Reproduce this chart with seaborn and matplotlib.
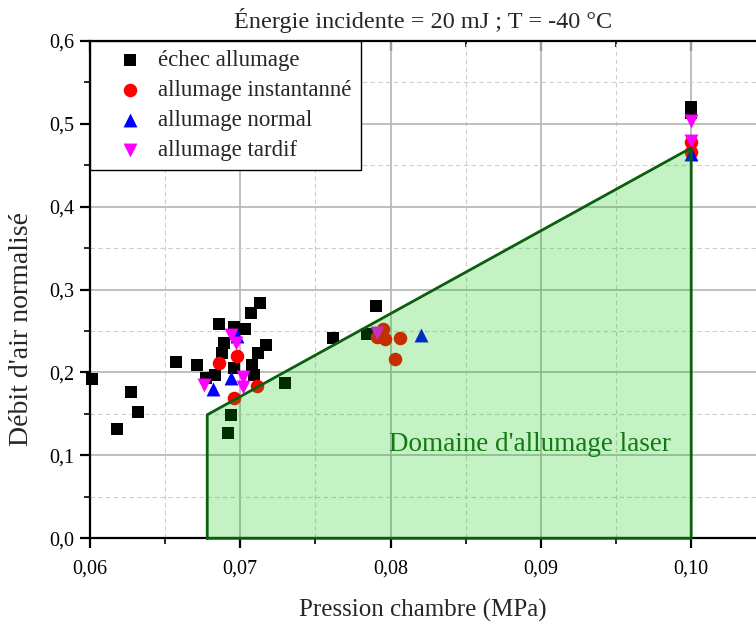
import numpy as np
import pandas as pd
import matplotlib
matplotlib.use("Agg")
import matplotlib.pyplot as plt
from matplotlib.ticker import MultipleLocator, FuncFormatter
import seaborn as sns

# ---- data ----
categories = ["échec allumage", "allumage instantanné", "allumage normal", "allumage tardif"]

echec_x = [0.0601, 0.0618, 0.0627, 0.0632, 0.0657, 0.0671, 0.0677, 0.0683, 0.0686, 0.0688,
           0.0689, 0.0696, 0.0703, 0.0696, 0.0708, 0.0709, 0.0707, 0.0713, 0.0712, 0.0717,
           0.0730, 0.0694, 0.0692, 0.0762, 0.0784, 0.0790, 0.1000, 0.1000]
echec_y = [0.192, 0.132, 0.177, 0.152, 0.213, 0.209, 0.193, 0.197, 0.259, 0.223,
           0.236, 0.255, 0.252, 0.205, 0.209, 0.197, 0.272, 0.284, 0.223, 0.233,
           0.187, 0.149, 0.127, 0.242, 0.247, 0.280, 0.520, 0.513]

inst_x = [0.0686, 0.0698, 0.0696, 0.0711, 0.0791, 0.0796, 0.0795, 0.0806, 0.0803, 0.1000, 0.1000]
inst_y = [0.211, 0.220, 0.169, 0.184, 0.243, 0.240, 0.253, 0.242, 0.216, 0.478, 0.466]

norm_x = [0.0698, 0.0694, 0.0682, 0.0820, 0.1000]
norm_y = [0.244, 0.193, 0.180, 0.245, 0.463]

tard_x = [0.0694, 0.0697, 0.0676, 0.0702, 0.0702, 0.0791, 0.1000, 0.1000]
tard_y = [0.245, 0.235, 0.185, 0.195, 0.183, 0.248, 0.503, 0.479]

domain_x = [0.0678, 0.0678, 0.1000, 0.1000]
domain_y = [0.0, 0.149, 0.471, 0.0]

title = "Énergie incidente = 20 mJ ; T = -40 °C"
xlabel = "Pression chambre (MPa)"
ylabel = "Débit d'air normalisé"
domain_label = "Domaine d'allumage laser"

# ---- build table ----
df = pd.DataFrame({
    "x": echec_x + inst_x + norm_x + tard_x,
    "y": echec_y + inst_y + norm_y + tard_y,
    "type": [categories[0]] * len(echec_x) + [categories[1]] * len(inst_x)
            + [categories[2]] * len(norm_x) + [categories[3]] * len(tard_x),
})

sns.set_style("white")
plt.rcParams["font.family"] = ["Liberation Serif", "DejaVu Serif"]
plt.rcParams["mathtext.fontset"] = "dejavuserif"

fig = plt.figure(figsize=(7.56, 6.22), dpi=100)
ax = fig.add_axes([90 / 756, 1 - 538.3 / 622, (756 - 90) / 756, (538.3 - 40.9) / 622])

palette = {categories[0]: "black", categories[1]: "#ff0000",
           categories[2]: "#0000ff", categories[3]: "#ff00ff"}
markers = {categories[0]: "s", categories[1]: "o",
           categories[2]: "^", categories[3]: "v"}
sizes = {categories[0]: 70, categories[1]: 95, categories[2]: 100, categories[3]: 100}

for cat in categories:
    sub = df[df["type"] == cat]
    sns.scatterplot(data=sub, x="x", y="y", color=palette[cat], marker=markers[cat],
                    s=sizes[cat], linewidth=0, ax=ax, zorder=3, label=cat, clip_on=False)

# domain polygon (semi-transparent overlay above the points)
ax.fill(domain_x, domain_y, facecolor=(0.0, 0.78, 0.0), alpha=0.23, edgecolor="none", zorder=4)
ax.plot(domain_x + [domain_x[0]], domain_y + [domain_y[0]], color="#0b5e0b", lw=2, zorder=5,
        clip_on=False)
ax.text(0.0799, 0.113, domain_label, color="#137a13", fontsize=19.5, ha="left", va="center",
        zorder=6)

ax.set_xlim(0.06, 0.06 + 666 / 15030)
ax.set_ylim(0, 0.6)

comma = FuncFormatter(lambda v, p: f"{v:.2f}".replace(".", ","))
comma1 = FuncFormatter(lambda v, p: f"{v:.1f}".replace(".", ","))
ax.xaxis.set_major_locator(MultipleLocator(0.01))
ax.xaxis.set_minor_locator(MultipleLocator(0.005))
ax.yaxis.set_major_locator(MultipleLocator(0.1))
ax.yaxis.set_minor_locator(MultipleLocator(0.05))
ax.xaxis.set_major_formatter(comma)
ax.yaxis.set_major_formatter(comma1)

ax.grid(which="major", color="#b4b4b4", lw=1.2, ls="-", zorder=0)
ax.grid(which="minor", color="#cdcdcd", lw=0.8, ls=(0, (4, 3)), zorder=0)
ax.set_axisbelow(True)

for side in ["left", "bottom", "top"]:
    ax.spines[side].set_visible(True)
    ax.spines[side].set_color("black")
    ax.spines[side].set_linewidth(1.6)
ax.spines["right"].set_visible(False)

ax.tick_params(axis="both", which="major", direction="out", length=7, width=1.6, labelsize=14.5,
               left=True, bottom=True, colors="black")
ax.tick_params(axis="x", which="major", pad=8)
ax.tick_params(axis="y", which="major", pad=4)
ax.tick_params(which="minor", direction="out", length=4.5, width=1.4, left=True, bottom=True)

top = ax.secondary_xaxis("top")
top.xaxis.set_major_locator(MultipleLocator(0.01))
top.xaxis.set_minor_locator(MultipleLocator(0.005))
top.tick_params(which="major", direction="in", length=7, width=1.6, labeltop=False)
top.tick_params(which="minor", direction="in", length=4.5, width=1.4)
top.spines["top"].set_visible(False)

ax.set_xlabel(xlabel, fontsize=18, labelpad=15)
ax.set_ylabel(ylabel, fontsize=20)
ax.yaxis.set_label_coords(-0.084, 0.42)
ax.set_title(title, fontsize=17.5, pad=9)

handles, labels = ax.get_legend_handles_labels()
leg = ax.legend(handles, labels, loc="upper left", bbox_to_anchor=(0, 1), borderaxespad=0,
                frameon=True, fancybox=False, edgecolor="black", framealpha=1,
                fontsize=16.5, handletextpad=-0.13, borderpad=0.4, labelspacing=0.39,
                handlelength=2.7, markerscale=1.0)
leg.get_frame().set_linewidth(1.0)
leg.set_zorder(10)

fig.savefig("out.png", dpi=100)
